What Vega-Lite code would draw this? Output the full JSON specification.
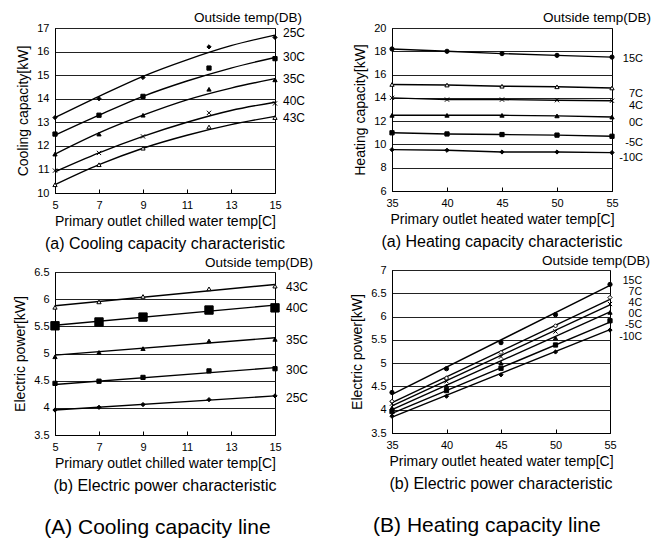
{
  "$schema": "https://vega.github.io/schema/vega-lite/v6.json",
  "background": "white",
  "padding": {"left": 13, "top": 10, "right": 2, "bottom": 4},
  "config": {
    "font": "Liberation Sans",
    "view": {"stroke": "black", "strokeWidth": 1},
    "axis": {"labelFont": "Liberation Sans", "labelFontSize": 11, "labelColor": "black", "titleFont": "Liberation Sans", "titleFontSize": 14, "titleFontWeight": "normal", "titleColor": "black", "domainColor": "black", "tickColor": "black", "gridColor": "#222", "gridOpacity": 1, "gridWidth": 1},
    "axisX": {"grid": false, "tickSize": -4, "labelPadding": 10, "titlePadding": 4, "labelFlush": false},
    "axisY": {"grid": true, "tickSize": 0, "labelPadding": 6, "titlePadding": 6, "format": "~g"},
    "title": {"font": "Liberation Sans", "fontSize": 16, "fontWeight": "normal", "color": "black", "offset": 8, "orient": "bottom", "anchor": "middle"},
    "concat": {"spacing": 36}
  },
  "datasets": {
    "p1": [
      {"s": "25C", "x": 5, "y": 13.2}, {"s": "25C", "x": 7, "y": 14.0}, {"s": "25C", "x": 9, "y": 14.9}, {"s": "25C", "x": 12, "y": 16.2}, {"s": "25C", "x": 15, "y": 16.6},
      {"s": "30C", "x": 5, "y": 12.5}, {"s": "30C", "x": 7, "y": 13.3}, {"s": "30C", "x": 9, "y": 14.1}, {"s": "30C", "x": 12, "y": 15.3}, {"s": "30C", "x": 15, "y": 15.7},
      {"s": "35C", "x": 5, "y": 11.65}, {"s": "35C", "x": 7, "y": 12.5}, {"s": "35C", "x": 9, "y": 13.3}, {"s": "35C", "x": 12, "y": 14.4}, {"s": "35C", "x": 15, "y": 14.8},
      {"s": "40C", "x": 5, "y": 10.95}, {"s": "40C", "x": 7, "y": 11.7}, {"s": "40C", "x": 9, "y": 12.4}, {"s": "40C", "x": 12, "y": 13.4}, {"s": "40C", "x": 15, "y": 13.8},
      {"s": "43C", "x": 5, "y": 10.35}, {"s": "43C", "x": 7, "y": 11.2}, {"s": "43C", "x": 9, "y": 11.9}, {"s": "43C", "x": 12, "y": 12.8}, {"s": "43C", "x": 15, "y": 13.2}
    ],
    "f1": [
      {"s": "25C", "x": 5, "y": 13.2}, {"s": "25C", "x": 7, "y": 14.1}, {"s": "25C", "x": 9, "y": 14.95}, {"s": "25C", "x": 11, "y": 15.65}, {"s": "25C", "x": 13, "y": 16.25}, {"s": "25C", "x": 15, "y": 16.7},
      {"s": "30C", "x": 5, "y": 12.45}, {"s": "30C", "x": 7, "y": 13.3}, {"s": "30C", "x": 9, "y": 14.1}, {"s": "30C", "x": 11, "y": 14.75}, {"s": "30C", "x": 13, "y": 15.3}, {"s": "30C", "x": 15, "y": 15.75},
      {"s": "35C", "x": 5, "y": 11.65}, {"s": "35C", "x": 7, "y": 12.55}, {"s": "35C", "x": 9, "y": 13.3}, {"s": "35C", "x": 11, "y": 13.95}, {"s": "35C", "x": 13, "y": 14.45}, {"s": "35C", "x": 15, "y": 14.85},
      {"s": "40C", "x": 5, "y": 10.9}, {"s": "40C", "x": 7, "y": 11.7}, {"s": "40C", "x": 9, "y": 12.4}, {"s": "40C", "x": 11, "y": 13.0}, {"s": "40C", "x": 13, "y": 13.5}, {"s": "40C", "x": 15, "y": 13.85},
      {"s": "43C", "x": 5, "y": 10.35}, {"s": "43C", "x": 7, "y": 11.2}, {"s": "43C", "x": 9, "y": 11.9}, {"s": "43C", "x": 11, "y": 12.45}, {"s": "43C", "x": 13, "y": 12.9}, {"s": "43C", "x": 15, "y": 13.25}
    ],
    "l1": [
      {"s": "25C", "x": 15, "y": 16.8}, {"s": "30C", "x": 15, "y": 15.77}, {"s": "35C", "x": 15, "y": 14.83}, {"s": "40C", "x": 15, "y": 13.9}, {"s": "43C", "x": 15, "y": 13.2}
    ],
    "p2": [
      {"s": "15C", "x": 35, "y": 18.2}, {"s": "15C", "x": 40, "y": 18.0}, {"s": "15C", "x": 45, "y": 17.8}, {"s": "15C", "x": 50, "y": 17.65}, {"s": "15C", "x": 55, "y": 17.5},
      {"s": "7C", "x": 35, "y": 15.15}, {"s": "7C", "x": 40, "y": 15.1}, {"s": "7C", "x": 45, "y": 15.0}, {"s": "7C", "x": 50, "y": 14.95}, {"s": "7C", "x": 55, "y": 14.85},
      {"s": "4C", "x": 35, "y": 14.0}, {"s": "4C", "x": 40, "y": 13.85}, {"s": "4C", "x": 45, "y": 13.85}, {"s": "4C", "x": 50, "y": 13.8}, {"s": "4C", "x": 55, "y": 13.75},
      {"s": "0C", "x": 35, "y": 12.5}, {"s": "0C", "x": 40, "y": 12.5}, {"s": "0C", "x": 45, "y": 12.5}, {"s": "0C", "x": 50, "y": 12.45}, {"s": "0C", "x": 55, "y": 12.35},
      {"s": "-5C", "x": 35, "y": 11.0}, {"s": "-5C", "x": 40, "y": 10.9}, {"s": "-5C", "x": 45, "y": 10.85}, {"s": "-5C", "x": 50, "y": 10.8}, {"s": "-5C", "x": 55, "y": 10.7},
      {"s": "-10C", "x": 35, "y": 9.55}, {"s": "-10C", "x": 40, "y": 9.5}, {"s": "-10C", "x": 45, "y": 9.35}, {"s": "-10C", "x": 50, "y": 9.35}, {"s": "-10C", "x": 55, "y": 9.3}
    ],
    "l2": [
      {"s": "15C", "x": 55, "y": 17.3}, {"s": "7C", "x": 55, "y": 14.35}, {"s": "4C", "x": 55, "y": 13.3}, {"s": "0C", "x": 55, "y": 11.8}, {"s": "-5C", "x": 55, "y": 10.15}, {"s": "-10C", "x": 55, "y": 8.85}
    ],
    "p3": [
      {"s": "43C", "x": 5, "y": 5.85}, {"s": "43C", "x": 7, "y": 5.95}, {"s": "43C", "x": 9, "y": 6.05}, {"s": "43C", "x": 12, "y": 6.19}, {"s": "43C", "x": 15, "y": 6.24},
      {"s": "40C", "x": 5, "y": 5.51}, {"s": "40C", "x": 7, "y": 5.58}, {"s": "40C", "x": 9, "y": 5.67}, {"s": "40C", "x": 12, "y": 5.8}, {"s": "40C", "x": 15, "y": 5.84},
      {"s": "35C", "x": 5, "y": 4.94}, {"s": "35C", "x": 7, "y": 5.02}, {"s": "35C", "x": 9, "y": 5.09}, {"s": "35C", "x": 12, "y": 5.23}, {"s": "35C", "x": 15, "y": 5.26},
      {"s": "30C", "x": 5, "y": 4.45}, {"s": "30C", "x": 7, "y": 4.49}, {"s": "30C", "x": 9, "y": 4.56}, {"s": "30C", "x": 12, "y": 4.68}, {"s": "30C", "x": 15, "y": 4.72},
      {"s": "25C", "x": 5, "y": 3.96}, {"s": "25C", "x": 7, "y": 4.01}, {"s": "25C", "x": 9, "y": 4.06}, {"s": "25C", "x": 12, "y": 4.15}, {"s": "25C", "x": 15, "y": 4.22}
    ],
    "f3": [
      {"s": "43C", "x": 5, "y": 5.88}, {"s": "43C", "x": 15, "y": 6.27},
      {"s": "40C", "x": 5, "y": 5.52}, {"s": "40C", "x": 15, "y": 5.89},
      {"s": "35C", "x": 5, "y": 4.97}, {"s": "35C", "x": 15, "y": 5.29},
      {"s": "30C", "x": 5, "y": 4.43}, {"s": "30C", "x": 15, "y": 4.74},
      {"s": "25C", "x": 5, "y": 3.96}, {"s": "25C", "x": 15, "y": 4.22}
    ],
    "l3": [
      {"s": "43C", "x": 15, "y": 6.22}, {"s": "40C", "x": 15, "y": 5.83}, {"s": "35C", "x": 15, "y": 5.24}, {"s": "30C", "x": 15, "y": 4.69}, {"s": "25C", "x": 15, "y": 4.19}
    ],
    "p4": [
      {"s": "15C", "x": 35, "y": 4.37}, {"s": "15C", "x": 40, "y": 4.88}, {"s": "15C", "x": 45, "y": 5.44}, {"s": "15C", "x": 50, "y": 6.04}, {"s": "15C", "x": 55, "y": 6.69},
      {"s": "7C", "x": 35, "y": 4.18}, {"s": "7C", "x": 40, "y": 4.68}, {"s": "7C", "x": 45, "y": 5.23}, {"s": "7C", "x": 50, "y": 5.8}, {"s": "7C", "x": 55, "y": 6.41},
      {"s": "4C", "x": 35, "y": 4.13}, {"s": "4C", "x": 40, "y": 4.61}, {"s": "4C", "x": 45, "y": 5.14}, {"s": "4C", "x": 50, "y": 5.68}, {"s": "4C", "x": 55, "y": 6.27},
      {"s": "0C", "x": 35, "y": 4.04}, {"s": "0C", "x": 40, "y": 4.51}, {"s": "0C", "x": 45, "y": 5.0}, {"s": "0C", "x": 50, "y": 5.54}, {"s": "0C", "x": 55, "y": 6.09},
      {"s": "-5C", "x": 35, "y": 3.96}, {"s": "-5C", "x": 40, "y": 4.41}, {"s": "-5C", "x": 45, "y": 4.89}, {"s": "-5C", "x": 50, "y": 5.39}, {"s": "-5C", "x": 55, "y": 5.91},
      {"s": "-10C", "x": 35, "y": 3.86}, {"s": "-10C", "x": 40, "y": 4.29}, {"s": "-10C", "x": 45, "y": 4.75}, {"s": "-10C", "x": 50, "y": 5.24}, {"s": "-10C", "x": 55, "y": 5.71}
    ],
    "f4": [
      {"s": "15C", "x": 35, "y": 4.33}, {"s": "15C", "x": 55, "y": 6.67},
      {"s": "7C", "x": 35, "y": 4.15}, {"s": "7C", "x": 55, "y": 6.37},
      {"s": "4C", "x": 35, "y": 4.08}, {"s": "4C", "x": 55, "y": 6.25},
      {"s": "0C", "x": 35, "y": 4.0}, {"s": "0C", "x": 55, "y": 6.1},
      {"s": "-5C", "x": 35, "y": 3.92}, {"s": "-5C", "x": 55, "y": 5.88},
      {"s": "-10C", "x": 35, "y": 3.84}, {"s": "-10C", "x": 55, "y": 5.72}
    ],
    "l4": [
      {"s": "15C", "x": 55, "y": 6.77}, {"s": "7C", "x": 55, "y": 6.53}, {"s": "4C", "x": 55, "y": 6.29}, {"s": "0C", "x": 55, "y": 6.05}, {"s": "-5C", "x": 55, "y": 5.81}, {"s": "-10C", "x": 55, "y": 5.57}
    ],
    "hdr1": [{"x": 15, "y": 17, "t": "Outside temp(DB)"}],
    "hdr2": [{"x": 55, "y": 20, "t": "Outside temp(DB)"}],
    "hdr3": [{"x": 15, "y": 6.5, "t": "Outside temp(DB)"}],
    "hdr4": [{"x": 55, "y": 7, "t": "Outside temp(DB)"}]
  },
  "hconcat": [
    {
      "title": {"text": "(A) Cooling capacity line", "orient": "bottom", "anchor": "middle", "fontSize": 21, "offset": 22, "dx": -6},
      "spacing": 2,
      "vconcat": [
        {
          "width": 220, "height": 165,
          "title": {"text": "(a) Cooling capacity characteristic", "orient": "bottom", "anchor": "middle"},
          "encoding": {
            "x": {"field": "x", "type": "quantitative", "scale": {"domain": [5, 15], "nice": false}, "axis": {"values": [5, 7, 9, 11, 13, 15], "title": "Primary outlet chilled water temp[C]"}},
            "y": {"field": "y", "type": "quantitative", "scale": {"domain": [10, 17], "nice": false, "zero": false}, "axis": {"values": [10, 11, 12, 13, 14, 15, 16, 17], "title": "Cooling capacity[kW]"}}
          },
          "layer": [
            {"data": {"name": "f1"}, "mark": {"type": "line", "interpolate": "monotone", "color": "black", "strokeWidth": 1.4}, "encoding": {"detail": {"field": "s"}}},
            {"data": {"name": "p1"}, "mark": {"type": "point", "stroke": "black", "strokeWidth": 1, "opacity": 1, "size": 18},
             "encoding": {
               "shape": {"field": "s", "scale": {"domain": ["25C", "30C", "35C", "40C", "43C"], "range": ["diamond", "square", "triangle-up", "M-1,-1L1,1M-1,1L1,-1", "triangle-up"]}, "legend": null},
               "fill": {"field": "s", "scale": {"domain": ["25C", "30C", "35C", "40C", "43C"], "range": ["black", "black", "black", "black", "white"]}, "legend": null}
             }},
            {"data": {"name": "l1"}, "mark": {"type": "text", "align": "left", "dx": 8, "fontSize": 12, "font": "Liberation Sans"}, "encoding": {"text": {"field": "s"}}},
            {"data": {"name": "hdr1"}, "mark": {"type": "text", "align": "right", "baseline": "bottom", "dx": 27, "dy": -3, "fontSize": 13.5, "font": "Liberation Sans"}, "encoding": {"text": {"field": "t"}}}
          ]
        },
        {
          "width": 220, "height": 163,
          "title": {"text": "(b) Electric power characteristic", "orient": "bottom", "anchor": "middle"},
          "encoding": {
            "x": {"field": "x", "type": "quantitative", "scale": {"domain": [5, 15], "nice": false}, "axis": {"values": [5, 7, 9, 11, 13, 15], "title": "Primary outlet chilled water temp[C]"}},
            "y": {"field": "y", "type": "quantitative", "scale": {"domain": [3.5, 6.5], "nice": false, "zero": false}, "axis": {"values": [3.5, 4, 4.5, 5, 5.5, 6, 6.5], "title": "Electric power[kW]"}}
          },
          "layer": [
            {"data": {"name": "f3"}, "mark": {"type": "line", "color": "black", "strokeWidth": 1.4}, "encoding": {"detail": {"field": "s"}}},
            {"data": {"name": "p3"}, "mark": {"type": "point", "stroke": "black", "strokeWidth": 1, "opacity": 1},
             "encoding": {
               "shape": {"field": "s", "scale": {"domain": ["43C", "40C", "35C", "30C", "25C"], "range": ["triangle-up", "square", "triangle-up", "square", "diamond"]}, "legend": null},
               "fill": {"field": "s", "scale": {"domain": ["43C", "40C", "35C", "30C", "25C"], "range": ["white", "black", "black", "black", "black"]}, "legend": null},
               "size": {"field": "s", "scale": {"type": "ordinal", "domain": ["43C", "40C", "35C", "30C", "25C"], "range": [18, 70, 18, 18, 18]}, "legend": null}
             }},
            {"data": {"name": "l3"}, "mark": {"type": "text", "align": "left", "dx": 11, "fontSize": 12, "font": "Liberation Sans"}, "encoding": {"text": {"field": "s"}}},
            {"data": {"name": "hdr3"}, "mark": {"type": "text", "align": "right", "baseline": "bottom", "dx": 38, "dy": -2, "fontSize": 13.5, "font": "Liberation Sans"}, "encoding": {"text": {"field": "t"}}}
          ]
        }
      ],
      "resolve": {"scale": {"x": "independent", "y": "independent", "shape": "independent", "fill": "independent", "size": "independent"}}
    },
    {
      "title": {"text": "(B) Heating capacity line", "orient": "bottom", "anchor": "middle", "fontSize": 21, "offset": 22, "dx": -14},
      "spacing": 2,
      "vconcat": [
        {
          "width": 220, "height": 163,
          "title": {"text": "(a) Heating capacity characteristic", "orient": "bottom", "anchor": "middle"},
          "encoding": {
            "x": {"field": "x", "type": "quantitative", "scale": {"domain": [35, 55], "nice": false}, "axis": {"values": [35, 40, 45, 50, 55], "title": "Primary outlet heated water temp[C]"}},
            "y": {"field": "y", "type": "quantitative", "scale": {"domain": [6, 20], "nice": false, "zero": false}, "axis": {"values": [6, 8, 10, 12, 14, 16, 18, 20], "title": "Heating capacity[kW]"}}
          },
          "layer": [
            {"data": {"name": "p2"}, "mark": {"type": "line", "color": "black", "strokeWidth": 1.4}, "encoding": {"detail": {"field": "s"}}},
            {"data": {"name": "p2"}, "mark": {"type": "point", "stroke": "black", "strokeWidth": 1, "opacity": 1, "size": 18},
             "encoding": {
               "shape": {"field": "s", "scale": {"domain": ["15C", "7C", "4C", "0C", "-5C", "-10C"], "range": ["circle", "triangle-up", "M-1,-1L1,1M-1,1L1,-1", "triangle-up", "square", "diamond"]}, "legend": null},
               "fill": {"field": "s", "scale": {"domain": ["15C", "7C", "4C", "0C", "-5C", "-10C"], "range": ["black", "white", "black", "black", "black", "black"]}, "legend": null}
             }},
            {"data": {"name": "l2"}, "mark": {"type": "text", "align": "right", "dx": 31, "fontSize": 11, "font": "Liberation Sans"}, "encoding": {"text": {"field": "s"}}},
            {"data": {"name": "hdr2"}, "mark": {"type": "text", "align": "right", "baseline": "bottom", "dx": 39, "dy": -3, "fontSize": 13.5, "font": "Liberation Sans"}, "encoding": {"text": {"field": "t"}}}
          ]
        },
        {
          "width": 218, "height": 163,
          "title": {"text": "(b) Electric power characteristic", "orient": "bottom", "anchor": "middle"},
          "encoding": {
            "x": {"field": "x", "type": "quantitative", "scale": {"domain": [35, 55], "nice": false}, "axis": {"values": [35, 40, 45, 50, 55], "title": "Primary outlet heated water temp[C]"}},
            "y": {"field": "y", "type": "quantitative", "scale": {"domain": [3.5, 7], "nice": false, "zero": false}, "axis": {"values": [3.5, 4, 4.5, 5, 5.5, 6, 6.5, 7], "title": "Electric power[kW]"}}
          },
          "layer": [
            {"data": {"name": "f4"}, "mark": {"type": "line", "color": "black", "strokeWidth": 1.4}, "encoding": {"detail": {"field": "s"}}},
            {"data": {"name": "p4"}, "mark": {"type": "point", "stroke": "black", "strokeWidth": 1, "opacity": 1, "size": 18},
             "encoding": {
               "shape": {"field": "s", "scale": {"domain": ["15C", "7C", "4C", "0C", "-5C", "-10C"], "range": ["circle", "diamond", "M-1,-1L1,1M-1,1L1,-1", "triangle-up", "square", "diamond"]}, "legend": null},
               "fill": {"field": "s", "scale": {"domain": ["15C", "7C", "4C", "0C", "-5C", "-10C"], "range": ["black", "white", "black", "black", "black", "black"]}, "legend": null}
             }},
            {"data": {"name": "l4"}, "mark": {"type": "text", "align": "right", "dx": 32, "fontSize": 10.5, "font": "Liberation Sans"}, "encoding": {"text": {"field": "s"}}},
            {"data": {"name": "hdr4"}, "mark": {"type": "text", "align": "right", "baseline": "bottom", "dx": 40, "dy": -2, "fontSize": 13.5, "font": "Liberation Sans"}, "encoding": {"text": {"field": "t"}}}
          ]
        }
      ],
      "resolve": {"scale": {"x": "independent", "y": "independent", "shape": "independent", "fill": "independent", "size": "independent"}}
    }
  ],
  "resolve": {"scale": {"x": "independent", "y": "independent", "shape": "independent", "fill": "independent", "size": "independent"}}
}
